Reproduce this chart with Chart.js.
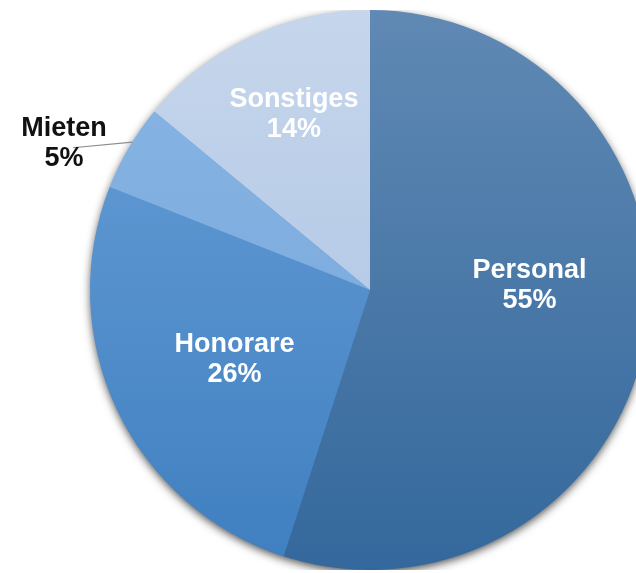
<!DOCTYPE html>
<html>
<head>
<meta charset="utf-8">
<script src="https://cdn.jsdelivr.net/npm/chart.js@4"></script>
<style>
  html, body { margin: 0; padding: 0; background: #fff; }
  body { width: 636px; height: 573px; overflow: hidden; position: relative; }
  #wrap { position: absolute; left: 0; top: 10px; width: 740px; height: 560px; }
</style>
</head>
<body>
<div id="wrap"><canvas id="pieChart" width="740" height="560"></canvas></div>
<script>
  // data
  const categories = ["Personal", "Honorare", "Mieten", "Sonstiges"];
  const shares = [55, 26, 5, 14];

  // look
  const gradTop = ["#6089b4", "#6aa0d8", "#88b5e4", "#c6d6ec"];
  const gradBottom = ["#34689c", "#3f7fc0", "#74a5da", "#a8c0e2"];
  const labelColor = ["#ffffff", "#ffffff", "#111111", "#ffffff"];
  // label placement relative to each slice: angle shift (deg) and radius factor
  const labelAnchor = [
    { shift: -11.5, f: 0.57 },
    { shift: -1.1, f: 0.54 },
    { shift: -4.6, f: 1.216 },
    { shift: 2.0, f: 0.69 },
  ];
  const FONT = "bold 27px 'Liberation Sans', Arial, sans-serif";

  const sliceFill = (ctx) => {
    const chart = ctx.chart;
    const area = chart.chartArea;
    if (!area) return gradBottom[ctx.dataIndex];
    const g = chart.ctx.createLinearGradient(0, area.top, 0, area.bottom);
    g.addColorStop(0, gradTop[ctx.dataIndex]);
    g.addColorStop(1, gradBottom[ctx.dataIndex]);
    return g;
  };

  const shadowPlugin = {
    id: "pieShadow",
    beforeDatasetsDraw(chart) {
      const arc = chart.getDatasetMeta(0).data[0];
      if (!arc) return;
      const { x, y, outerRadius } = arc.getProps(["x", "y", "outerRadius"], true);
      const c = chart.ctx;
      c.save();
      c.shadowColor = "rgba(0,0,0,0.75)";
      c.shadowBlur = 10;
      c.shadowOffsetX = 0;
      c.shadowOffsetY = 3;
      c.fillStyle = "#4a7fb5";
      c.beginPath();
      c.arc(x, y, outerRadius - 1, 0, Math.PI * 2);
      c.fill();
      c.restore();
    },
  };

  const labelPlugin = {
    id: "sliceLabels",
    afterDatasetsDraw(chart) {
      const c = chart.ctx;
      const meta = chart.getDatasetMeta(0);
      c.save();
      c.font = FONT;
      c.textAlign = "center";
      c.textBaseline = "alphabetic";
      meta.data.forEach((arc, i) => {
        const p = arc.getProps(["x", "y", "startAngle", "endAngle", "outerRadius"], true);
        const mid = (p.startAngle + p.endAngle) / 2;
        const a = mid + (labelAnchor[i].shift * Math.PI) / 180;
        const r = p.outerRadius * labelAnchor[i].f;
        const cx = p.x + Math.cos(a) * r;
        const cy = p.y + Math.sin(a) * r;
        if (labelAnchor[i].f > 1) {
          // leader line from slice edge to the outside label
          const ea = mid + (1.3 * Math.PI) / 180;
          c.strokeStyle = "#8c8c8c";
          c.lineWidth = 1.2;
          c.beginPath();
          c.moveTo(p.x + Math.cos(ea) * p.outerRadius, p.y + Math.sin(ea) * p.outerRadius);
          c.lineTo(cx + 9, cy + 7);
          c.stroke();
        }
        c.fillStyle = labelColor[i];
        c.fillText(categories[i], cx, cy - 5);
        c.fillText(shares[i] + "%", cx, cy + 25);
      });
      c.restore();
    },
  };

  const initChart = () => {
    if (!window.Chart) return;
    const ctx = document.getElementById("pieChart");
    new Chart(ctx, {
      type: "pie",
      data: {
        labels: categories,
        datasets: [
          {
            data: shares,
            backgroundColor: sliceFill,
            borderWidth: 0,
          },
        ],
      },
      options: {
        responsive: false,
        devicePixelRatio: 1,
        animation: false,
        layout: { padding: 0 },
        plugins: { legend: { display: false }, tooltip: { enabled: false } },
      },
      plugins: [shadowPlugin, labelPlugin],
    });
  };

  document.addEventListener("DOMContentLoaded", initChart);
</script>
</body>
</html>
